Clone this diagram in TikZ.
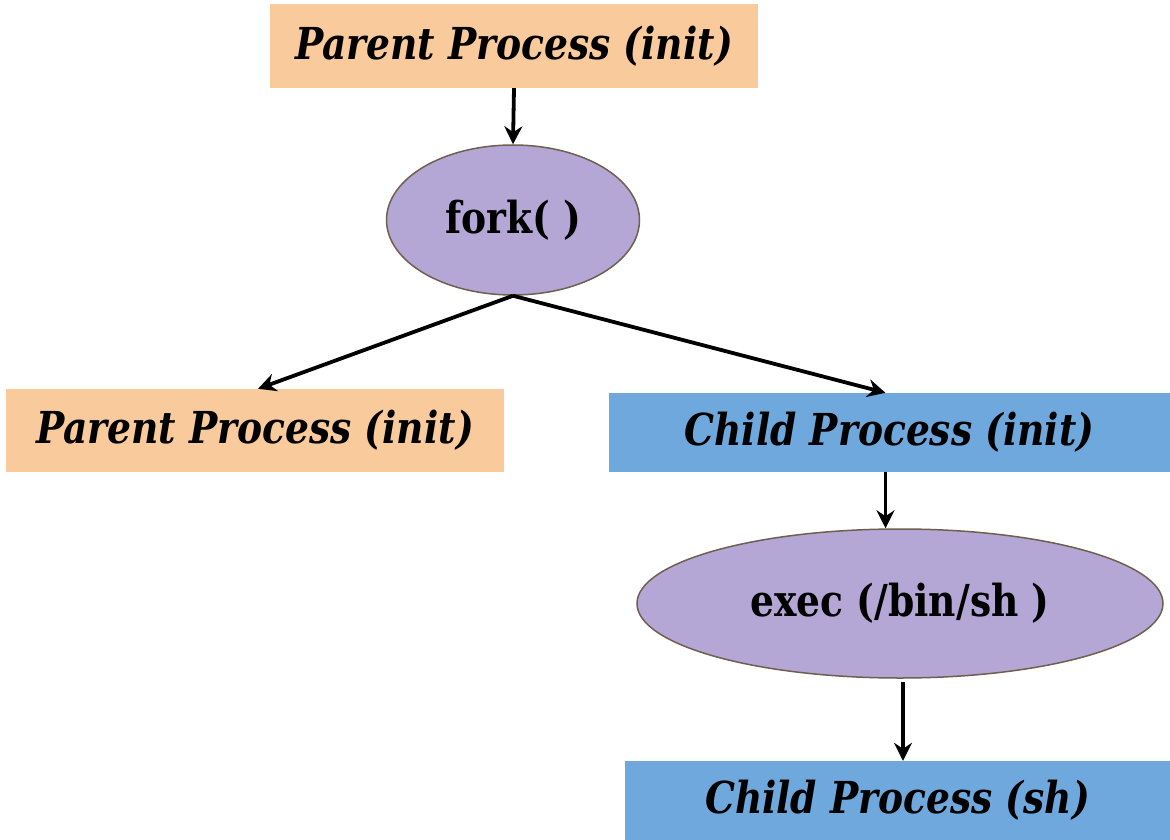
\documentclass[tikz,border=0pt]{standalone}
\usepackage{fontspec}
\setmainfont{DejaVu Serif}
\newfontfamily\boxfont[FakeStretch=0.855]{DejaVu Serif}
\usetikzlibrary{shapes.geometric,arrows.meta}
\definecolor{peach}{HTML}{F8CA9C}
\definecolor{skyb}{HTML}{6FA8DC}
\definecolor{lilac}{HTML}{B4A7D6}
\definecolor{rim}{HTML}{6E5F4E}
\begin{document}
\begin{tikzpicture}[x=1pt,y=-1pt,
  procbox/.style={rectangle,inner sep=0pt,font=\boxfont\fontsize{44}{48}\selectfont\bfseries\itshape},
  callnode/.style={ellipse,draw=rim,line width=1.5pt,fill=lilac,inner sep=0pt,font=\boxfont\fontsize{44}{48}\selectfont\bfseries},
  arr/.style={line width=3.8pt,-{Stealth[length=18pt,width=18pt,inset=6pt]}}]
\useasboundingbox (0,0) rectangle (1170,840);
\node[procbox,fill=peach,minimum width=488pt,minimum height=84pt] (p1) at (514,46) {\raisebox{-3pt}{Parent Process (init)}};
\node[callnode,minimum width=253pt,minimum height=150pt] (fork) at (513,220) {fork( )};
\node[procbox,fill=peach,minimum width=498pt,minimum height=83pt] (p2) at (255,430.5) {\raisebox{-3pt}{Parent Process (init)}};
\node[procbox,fill=skyb,minimum width=561pt,minimum height=79pt] (c1) at (889.5,432.5) {\raisebox{-3pt}{Child Process (init)}};
\node[callnode,minimum width=526pt,minimum height=149pt] (exec) at (900,603.5) {exec (/bin/sh )};
\node[procbox,fill=skyb,minimum width=545pt,minimum height=79pt] (c2) at (897.5,800.5) {\raisebox{-3pt}{Child Process (sh)}};
\draw[arr] (p1.south) -- (fork.north);
\draw[arr] (fork.south) -- ([xshift=3pt]p2.north);
\draw[arr] (fork.south) -- ([xshift=-4pt]c1.north);
\draw[arr] ([xshift=-4pt]c1.south) -- ([xshift=-4pt]c1.south |- exec.north);
\draw[arr] ([xshift=3pt,yshift=-3pt]exec.south) -- ([xshift=3pt]exec.south |- c2.north);
\end{tikzpicture}
\end{document}
